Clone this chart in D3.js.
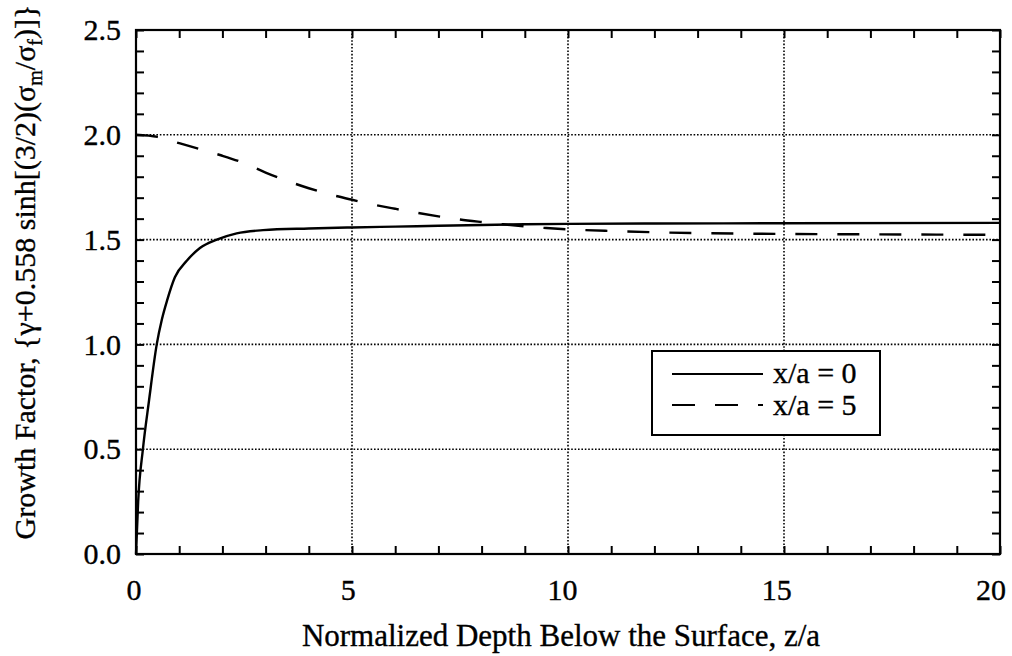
<!DOCTYPE html>
<html>
<head>
<meta charset="utf-8">
<script src="https://cdn.jsdelivr.net/npm/d3@7"></script>
<style>
  html, body { margin: 0; padding: 0; background: #fff; }
  svg { display: block; }
  text { font-family: "Liberation Serif", "Times New Roman", serif; fill: #000; stroke: #000; stroke-width: 0.35px; }
</style>
</head>
<body>
<svg id="chart" width="1012" height="656"></svg>
<script>
// Growth factor vs. normalized depth, two lateral positions
const depthSolid = [0, 0.05, 0.16, 0.3, 0.48, 0.6, 0.72, 0.9, 1.18, 1.48, 1.87, 2.33, 2.94, 4.0, 5.0, 6.0, 7.0, 8.0, 9.0, 10, 12, 15, 20];
const growthSolid = [0, 0.25, 0.5, 0.73, 1.0, 1.12, 1.21, 1.32, 1.40, 1.46, 1.50, 1.53, 1.545, 1.553, 1.558, 1.562, 1.566, 1.570, 1.573, 1.575, 1.577, 1.578, 1.58];

const depthDashed = [0, 0.5, 1.0, 1.5, 2.0, 2.5, 3.0, 3.5, 4.0, 4.5, 5.0, 5.5, 6.0, 6.5, 7.0, 7.5, 8.0, 8.5, 9.0, 9.5, 10, 11, 12, 13, 15, 17, 20];
const growthDashed = [2.0, 1.99, 1.96, 1.93, 1.90, 1.865, 1.82, 1.78, 1.745, 1.715, 1.69, 1.667, 1.647, 1.628, 1.611, 1.596, 1.584, 1.573, 1.563, 1.555, 1.549, 1.541, 1.535, 1.531, 1.527, 1.525, 1.523];

const seriesNames = ["x/a = 0", "x/a = 5"];
const xMajorTicks = [0, 5, 10, 15, 20];
const yMajorTicks = [0, 0.5, 1.0, 1.5, 2.0, 2.5];
const xTitle = "Normalized Depth Below the Surface, z/a";

const svg = d3.select("#chart");
const plotL = 136, plotR = 1000, plotT = 30, plotB = 554;

const x = d3.scaleLinear().domain([0, 20]).range([plotL, plotR]);
const y = d3.scaleLinear().domain([0, 2.5]).range([plotB, plotT]);
// tick numbers sit slightly inside the frame at the right end
const xLabel = x.copy().range([134, 991]);

// dotted grid at interior major ticks
const grid = svg.append("g")
  .attr("stroke", "#000").attr("stroke-width", 1.6)
  .attr("stroke-dasharray", "1.6,1.8").attr("fill", "none");
xMajorTicks.filter(v => v > 0 && v < 20).forEach(v => {
  grid.append("line").attr("x1", x(v)).attr("x2", x(v)).attr("y1", plotT).attr("y2", plotB);
});
yMajorTicks.filter(v => v > 0 && v < 2.5).forEach(v => {
  grid.append("line").attr("x1", plotL).attr("x2", plotR).attr("y1", y(v)).attr("y2", y(v));
});

// inward ticks on all four sides
const tickLen = 8;
const xMinor = d3.range(0, 21, 1);
const yMinor = d3.range(0, 26, 1).map(d => d / 10);
const axB = d3.axisBottom(x).tickValues(xMinor).tickSize(-tickLen).tickFormat("");
const axT = d3.axisTop(x).tickValues(xMinor).tickSize(-tickLen).tickFormat("");
const axL = d3.axisLeft(y).tickValues(yMinor).tickSize(-tickLen).tickFormat("");
const axR = d3.axisRight(y).tickValues(yMinor).tickSize(-tickLen).tickFormat("");
[[axB, `translate(0,${plotB})`], [axT, `translate(0,${plotT})`],
 [axL, `translate(${plotL},0)`], [axR, `translate(${plotR},0)`]].forEach(([ax, tr]) => {
  const g = svg.append("g").attr("transform", tr).call(ax);
  g.select(".domain").remove();
  g.selectAll("line").attr("stroke", "#000").attr("stroke-width", 2);
});

// frame
svg.append("rect").attr("x", plotL).attr("y", plotT)
  .attr("width", plotR - plotL).attr("height", plotB - plotT)
  .attr("fill", "none").attr("stroke", "#000").attr("stroke-width", 2.2);

// tick labels
svg.append("g").selectAll("text").data(xMajorTicks).join("text")
  .attr("x", d => xLabel(d)).attr("y", 600)
  .attr("text-anchor", "middle").attr("font-size", 30)
  .text(d => d);
svg.append("g").selectAll("text").data(yMajorTicks).join("text")
  .attr("x", 121).attr("y", d => y(d)).attr("dy", "0.34em")
  .attr("text-anchor", "end").attr("font-size", 30)
  .text(d => d3.format(".1f")(d));

// axis titles
svg.append("text").attr("x", 561).attr("y", 646)
  .attr("text-anchor", "middle").attr("font-size", 31).text(xTitle);

const yt = svg.append("text")
  .attr("transform", `translate(35,${(plotT + plotB) / 2 - 20}) rotate(-90)`)
  .attr("text-anchor", "middle").attr("font-size", 30);
yt.append("tspan").text("Growth Factor, {γ+0.558 sinh[(3/2)(σ");
yt.append("tspan").attr("font-size", 20).attr("dy", 7).text("m");
yt.append("tspan").attr("dy", -7).text("/σ");
yt.append("tspan").attr("font-size", 20).attr("dy", 7).text("f");
yt.append("tspan").attr("dy", -7).text(")]}");

// curves
const line = d3.line().x(d => x(d[0])).y(d => y(d[1])).curve(d3.curveMonotoneX);
const solidData = depthSolid.map((d, i) => [d, growthSolid[i]]);
const dashedData = depthDashed.map((d, i) => [d, growthDashed[i]]);

svg.append("path").datum(dashedData).attr("d", line)
  .attr("fill", "none").attr("stroke", "#000").attr("stroke-width", 2.4)
  .attr("stroke-dasharray", "22,20");
svg.append("path").datum(solidData).attr("d", line)
  .attr("fill", "none").attr("stroke", "#000").attr("stroke-width", 2.4);

// legend
const lg = svg.append("g");
lg.append("rect").attr("x", 652).attr("y", 351).attr("width", 228).attr("height", 84)
  .attr("fill", "#fff").attr("stroke", "#000").attr("stroke-width", 2);
lg.append("line").attr("x1", 672).attr("x2", 763).attr("y1", 374).attr("y2", 374)
  .attr("stroke", "#000").attr("stroke-width", 2);
lg.append("line").attr("x1", 672).attr("x2", 763).attr("y1", 405).attr("y2", 405)
  .attr("stroke", "#000").attr("stroke-width", 2).attr("stroke-dasharray", "23,20");
lg.selectAll("text.lbl").data(seriesNames).join("text").attr("class", "lbl")
  .attr("x", 773).attr("y", (d, i) => 383 + i * 32)
  .attr("font-size", 30).text(d => d);
</script>
</body>
</html>
